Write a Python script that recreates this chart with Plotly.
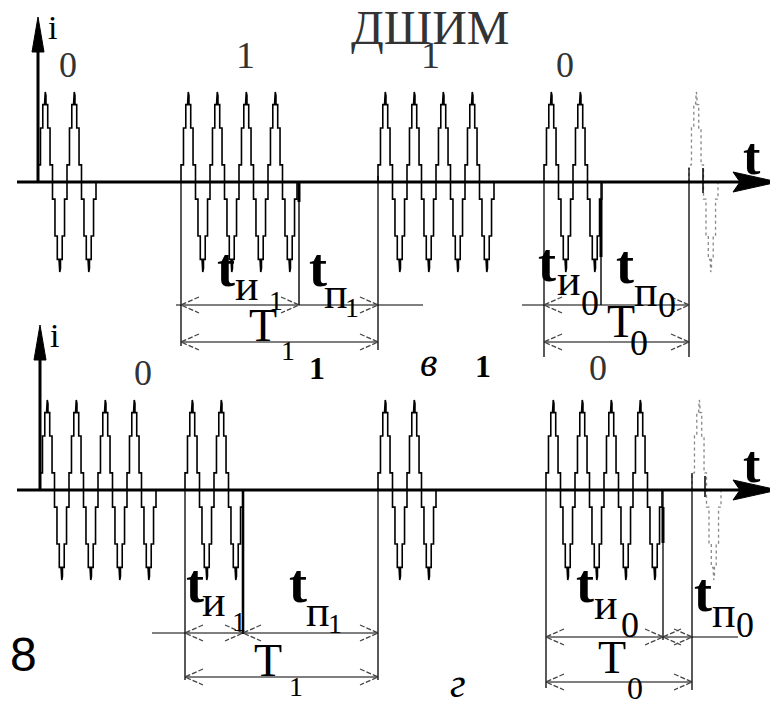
import plotly.graph_objects as go

W, H = 778, 707
PAGE_MARGIN = 8                # browser body margin around the plot div

# ---------------- data ----------------
CARRIER_PERIOD = 29.0          # width of one carrier cycle
AMP = 90.0                     # carrier amplitude

# stepped lobe profile: fraction of half-period, fraction of amplitude
LOBE_X = [0.0, 0.0, 0.17, 0.17, 0.33, 0.33, 0.45, 0.45, 0.5, 0.55, 0.55, 0.67, 0.67, 0.83, 0.83, 1.0, 1.0]
LOBE_Y = [0.0, 0.19, 0.19, 0.6, 0.6, 0.86, 0.86, 0.96, 1.0, 0.96, 0.86, 0.86, 0.6, 0.6, 0.19, 0.19, 0.0]

PANEL_BASE = [182, 490]        # time-axis level of panel в and panel г
PANEL_AXIS_X = [38, 40]        # current axis position

TOP_BURST_START = [38, 181, 378, 544]
TOP_BURST_CYCLES = [2, 4, 4, 2]
BOT_BURST_START = [40, 185, 378, 546]
BOT_BURST_CYCLES = [4, 2, 2, 4]
PARTIAL_START = [689, 692]     # faint (dashed) next burst

TOP_BITS = ["0", "1", "1", "0"]
TOP_BIT_X = [68, 245, 430, 565]
TOP_BIT_Y = [65, 55, 55, 65]
BOT_BITS = ["0", "1", "1", "0"]
BOT_BIT_X = [143, 317, 483, 598]
BOT_BIT_Y = [373, 368, 366, 368]

# extension (vertical) lines: x, y-from, y-to, width
EXT_X = [181, 299, 299, 378, 544, 601, 601, 689, 703,
         185, 243, 378, 546, 663, 663, 692, 705]
EXT_Y0 = [182, 182, 182, 176, 182, 182, 200, 168, 168,
          490, 490, 488, 488, 490, 507, 473, 476]
EXT_Y1 = [346, 305, 202, 350, 357, 305, 257, 357, 193,
          680, 634, 680, 688, 640, 543, 690, 497]
EXT_W = [1.3, 1.4, 3, 1.3, 1.3, 1.4, 3, 1.3, 1.5,
         1.3, 2.6, 1.3, 1.3, 1.3, 3, 1.3, 1.5]

# dimension lines: x-from, x-to, level
DIM_X0 = [176, 181, 522, 544, 152, 185, 546, 546]
DIM_X1 = [423, 378, 689, 689, 378, 378, 738, 692]
DIM_Y = [305, 342, 305, 342, 633, 677, 637, 682]

# dimension arrow heads: tip x, level, direction (-1 points left, +1 right)
ARR_X = [181, 299, 378, 181, 378, 544, 689, 544, 689,
         185, 243, 243, 378, 185, 378, 546, 663, 663, 692, 546, 692]
ARR_Y = [305, 305, 305, 342, 342, 305, 305, 342, 342,
         633, 633, 633, 633, 677, 677, 637, 637, 637, 637, 682, 682]
ARR_D = [-1, 1, 1, -1, 1, -1, 1, -1, 1,
         -1, 1, -1, 1, -1, 1, -1, 1, -1, 1, -1, 1]

# dimension labels: main letter, subscript letter, sub-subscript, positions
DIM_MAIN = ["t", "t", "T", "t", "t", "T", "t", "t", "T", "t", "t", "T"]
DIM_MAIN_XY = [(226, 268), (318, 268), (263, 325), (547, 263), (625, 265), (621, 321),
               (195, 584), (298, 584), (268, 660), (585, 584), (703, 593), (612, 657)]
DIM_SUB = ["и", "п", "", "и", "п", "", "и", "п", "", "и", "п", ""]
DIM_SUB_XY = [(247, 285), (336, 293), None, (569, 280), (646, 291), None,
              (214, 601), (318, 611), None, (606, 604), (724, 612), None]
DIM_IDX = ["1", "1", "1", "0", "0", "0", "1", "1", "1", "0", "0", "0"]
DIM_IDX_XY = [(276, 300), (352, 307), (288, 350), (590, 303), (667, 305), (639, 343),
              (239, 621), (335, 623), (296, 686), (630, 625), (745, 625), (635, 688)]

TITLE = "ДШИМ"
PANEL_LETTERS = ["в", "г"]
PANEL_LETTER_XY = [(428, 362), (458, 683)]
FIG_NUMBER = "8"

SERIF = "Liberation Serif, Times New Roman, serif"
SANS = "Liberation Sans, Arial, sans-serif"

fig = go.Figure()


def add_line(xs, ys, width=1.5, color="black", dash="solid"):
    fig.add_trace(go.Scatter(x=xs, y=ys, mode="lines", hoverinfo="skip",
                             line=dict(color=color, width=width, dash=dash),
                             showlegend=False))


def burst_points(start, cycles, base):
    xs, ys = [], []
    half = CARRIER_PERIOD / 2
    for k in range(cycles * 2):
        sign = 1 if k % 2 == 0 else -1
        x0 = start + k * half
        for fx, fy in zip(LOBE_X, LOBE_Y):
            xs.append(x0 + fx * half)
            ys.append(base - sign * AMP * fy)
    return xs, ys


# carrier bursts
for starts, cycles, base in [(TOP_BURST_START, TOP_BURST_CYCLES, PANEL_BASE[0]),
                             (BOT_BURST_START, BOT_BURST_CYCLES, PANEL_BASE[1])]:
    for s, c in zip(starts, cycles):
        xs, ys = burst_points(s, c, base)
        add_line(xs, ys, width=1.6)

# faint next burst
for s, base in zip(PARTIAL_START, PANEL_BASE):
    xs, ys = burst_points(s, 1, base)
    add_line(xs, ys, width=1.3, color="#888", dash="dot")

# extension lines
for x, y0, y1, w in zip(EXT_X, EXT_Y0, EXT_Y1, EXT_W):
    add_line([x, x], [y0, y1], width=w)

# dimension lines
for x0, x1, y in zip(DIM_X0, DIM_X1, DIM_Y):
    add_line([x0, x1], [y, y], width=1.2)

# open arrow heads (dashed grey strokes)
hx, hy = [], []
for x, y, d in zip(ARR_X, ARR_Y, ARR_D):
    hx += [x - d * 18, x, x - d * 18, None]
    hy += [y - 8, y, y + 8, None]
add_line(hx, hy, width=1.3, color="#444", dash="5px,2px")

# axes: time axis and current axis with arrow heads
for base, ax in zip(PANEL_BASE, PANEL_AXIS_X):
    add_line([17, 742], [base, base], width=3)
    add_line([ax, ax], [base, base - 135], width=3)
    fig.add_trace(go.Scatter(x=[733, 778, 733, 740, 733], y=[base - 10, base, base + 10, base, base - 10],
                             mode="lines", fill="toself", fillcolor="black",
                             line=dict(color="black", width=1), hoverinfo="skip", showlegend=False))
    fig.add_trace(go.Scatter(x=[ax - 6, ax, ax + 6, ax - 6], y=[base - 130, base - 165, base - 130, base - 130],
                             mode="lines", fill="toself", fillcolor="black",
                             line=dict(color="black", width=1), hoverinfo="skip", showlegend=False))

ann = []


def text(t, x, y, size, family=SERIF, color="black", xanchor="center"):
    ann.append(dict(text=t, x=x, y=y, xref="x", yref="y", showarrow=False,
                    xanchor=xanchor, yanchor="middle",
                    font=dict(family=family, size=size, color=color)))


text(TITLE, 430, 27, 48, color="#333")
for base, ax in zip(PANEL_BASE, PANEL_AXIS_X):
    text("i", ax + 14, base - 155, 34)
    text("<b>t</b>", 752, base - 26, 52)

for b, x, y in zip(TOP_BITS, TOP_BIT_X, TOP_BIT_Y):
    text(b, x, y, 36 if b == "0" else 38, color="#333")
for b, x, y in zip(BOT_BITS, BOT_BIT_X, BOT_BIT_Y):
    if b == "1":
        text("<b>1</b>", x, y, 32)
    else:
        text(b, x, y, 36, color="#333")

for m, mxy, s, sxy, i, ixy in zip(DIM_MAIN, DIM_MAIN_XY, DIM_SUB, DIM_SUB_XY, DIM_IDX, DIM_IDX_XY):
    if m == "t":
        text("<b>t</b>", mxy[0], mxy[1], 54)
    else:
        text(m, mxy[0], mxy[1], 46)
    if s:
        text(s, sxy[0], sxy[1], 44)
    text(i, ixy[0], ixy[1], 28 if i == "1" else (32 if ixy[1] > 680 else 36))

for letter, (x, y) in zip(PANEL_LETTERS, PANEL_LETTER_XY):
    text("<i>" + letter + "</i>", x, y, 40)

text(FIG_NUMBER, 8, 654, 48, family=SANS, xanchor="left")

fig.update_layout(
    width=W - PAGE_MARGIN, height=H - PAGE_MARGIN, margin=dict(l=0, r=0, t=0, b=0),
    paper_bgcolor="white", plot_bgcolor="white",
    xaxis=dict(range=[PAGE_MARGIN, W], visible=False, fixedrange=True),
    yaxis=dict(range=[H, PAGE_MARGIN], visible=False, fixedrange=True),
    annotations=ann, showlegend=False,
)

fig.write_html("out.html")
